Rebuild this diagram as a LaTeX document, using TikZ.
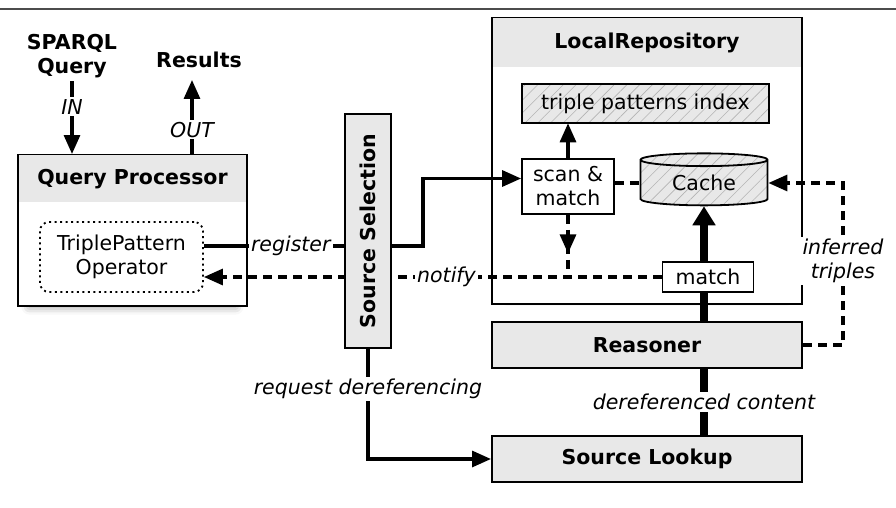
\documentclass[tikz,border=0pt]{standalone}
\usepackage{fontspec}
\setmainfont{DejaVu Sans}
\usepackage{tikz}
\usetikzlibrary{arrows.meta,positioning,shapes.geometric,patterns.meta,shadows.blur,decorations.markings}
\definecolor{boxgray}{HTML}{E8E8E8}
\definecolor{hatchgray}{HTML}{B4B4B4}
\newcommand{\diafont}{\fontsize{20.5}{24}\selectfont}

\begin{document}
\begin{tikzpicture}[x=1pt,y=-1pt,>={Triangle[length=19pt,width=16pt]},
                    font=\diafont,node distance=16pt]
\tikzstyle{panel}=[draw,line width=2pt,fill=white,inner sep=0pt,
  blur shadow={shadow xshift=0pt,shadow yshift=-9pt,shadow scale=0.9,
    shadow blur radius=9pt,shadow opacity=45}]
\tikzstyle{header}=[fill=boxgray,inner sep=0pt,font=\diafont\bfseries]
\tikzstyle{box}=[draw,line width=2pt,fill=boxgray,inner sep=0pt,font=\diafont\bfseries]
\tikzstyle{store}=[draw,line width=1.8pt,preaction={fill=boxgray},
  pattern={Lines[angle=45,distance=9pt,line width=0.6pt]},pattern color=hatchgray,inner sep=0pt]
\tikzstyle{op}=[draw,line width=1.8pt,fill=white,inner sep=0pt,align=center]
\tikzstyle{lbl}=[fill=white,inner sep=2pt,font=\diafont\itshape,align=center]
\tikzstyle{conn}=[line width=3.2pt]
\tikzstyle{dconn}=[line width=3.2pt,dash pattern=on 9pt off 6pt]
\tikzstyle{heavy}=[line width=8pt]
\useasboundingbox (0,0) rectangle (896,508);
\draw[line width=1.2pt,black!70] (0,9) -- (896,9);

\node[font=\diafont\bfseries,align=center] (sparql) at (72,56) {SPARQL\\Query};
\node[font=\diafont\bfseries] (results) at (199,60) {Results};
\coordinate (out) at (192,80);

% query processor
\node[panel,minimum width=229pt,minimum height=151pt] (qp) at (132.5,230.5) {};
\node[header,minimum width=227pt,minimum height=47pt,anchor=north] (qptitle)
  at ([yshift=-1pt]qp.north) {Query Processor};
\node[op,rounded corners=9pt,dash pattern=on 2pt off 3.5pt,minimum width=163pt,
  minimum height=70pt] (tpo) at (121.5,257) {TriplePattern\\Operator};

% local repository
\node[panel,minimum width=310pt,minimum height=286pt] (lr) at (647,161) {};
\node[header,minimum width=308pt,minimum height=49pt,anchor=north] (lrtitle)
  at ([yshift=-1pt]lr.north) {LocalRepository};
\node[store,minimum width=247pt,minimum height=39pt] (index) at (645.5,103.5) {triple patterns index};
\node[op,minimum width=92pt,minimum height=55pt] (scan) at (568,186.5) {scan \&\\match};
\node[store,cylinder,shape border rotate=90,aspect=0.2,minimum width=127pt,
  minimum height=52pt] (cache) at (704,183) {Cache};

\node[box,minimum width=310pt,minimum height=46pt,below=16pt of lr] (reasoner) {Reasoner};
\node[box,minimum width=310pt,minimum height=46pt,below=66pt of reasoner] (lookup) {Source Lookup};

\draw[heavy,->,>={Triangle[length=19pt,width=22pt]}] (cache.south |- reasoner.north) -- (cache.south);
\draw[heavy] (lookup.north -| cache.south) -- node[lbl]{dereferenced content} (reasoner.south -| cache.south);
\node[op,minimum width=91pt,minimum height=30pt] (match) at (708,277) {match};

\draw[dconn,->] (match.west) -- node[lbl,pos=0.47]{notify} (match.west -| tpo.east);
\coordinate (join) at (scan.south |- match.west);
\draw[dconn,postaction={decorate},
  decoration={markings,mark=at position 0.62 with {\arrow{>}}}] (scan.south) -- (join);
\draw[conn,->] (scan.north) -- (scan.north |- index.south);
\draw[dconn] (scan.east |- cache.west) -- (cache.west);
\draw[dconn,->] (reasoner.east) -- ++(40,0) |- node[lbl,pos=0.26]{inferred\\triples} (cache.east);

% source selection
\node[box,minimum width=46pt,minimum height=234pt] (ss) at (368,231) {\rotatebox{90}{Source Selection}};
\coordinate (reg) at ([yshift=11pt]tpo.east);
\draw[conn] (reg) -- node[lbl,pos=0.62]{register} (reg -| ss.west);
\draw[conn,->] ([yshift=-15pt]ss.east) -- ++(31,0) |- ([yshift=8pt]scan.west);
\draw[conn,->] (ss.south) |- node[lbl,pos=0.18]{request dereferencing} (lookup.west);

\draw[conn,->] (sparql.south) -- node[lbl,pos=0.35]{IN} (sparql.south |- qp.north);
\draw[conn,->] (qp.north -| out) -- node[lbl,pos=0.33]{OUT} (out);
\end{tikzpicture}
\end{document}
